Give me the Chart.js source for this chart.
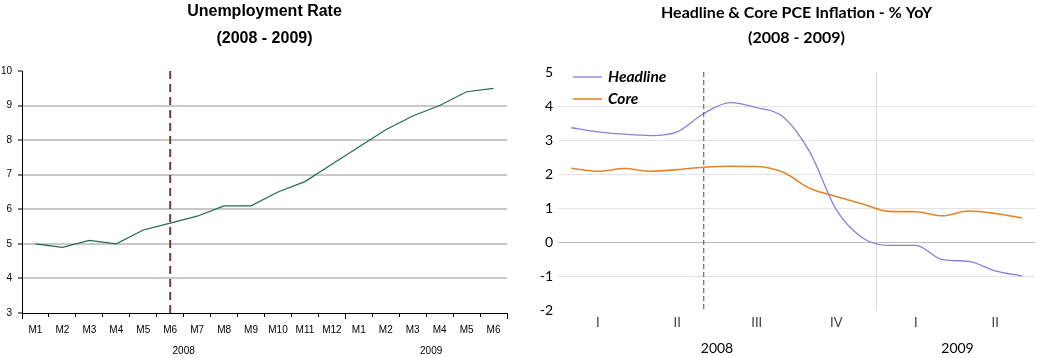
<!DOCTYPE html>
<html><head><meta charset="utf-8">
<script src="https://cdn.jsdelivr.net/npm/chart.js@4/dist/chart.umd.min.js"></script>
<style>
html,body{margin:0;padding:0;background:#fff;}
#wrap{position:relative;width:1039px;height:358px;overflow:hidden;background:#fff;}
#c1{position:absolute;left:0;top:0;}
#c2{position:absolute;left:520px;top:0;}
</style></head><body>
<div id="wrap"><canvas id="c1" width="520" height="358"></canvas><canvas id="c2" width="519" height="358"></canvas></div>
<script>
// ---- data ----
const monthLabels = ['M1','M2','M3','M4','M5','M6','M7','M8','M9','M10','M11','M12','M1','M2','M3','M4','M5','M6'];
const yearLabels = ['2008','2009'];
const unemployment = [5.0,4.9,5.1,5.0,5.4,5.6,5.8,6.1,6.1,6.5,6.8,7.3,7.8,8.3,8.7,9.0,9.4,9.5];
const pceMonths = ['Jan 2008','Feb 2008','Mar 2008','Apr 2008','May 2008','Jun 2008','Jul 2008','Aug 2008','Sep 2008','Oct 2008','Nov 2008','Dec 2008','Jan 2009','Feb 2009','Mar 2009','Apr 2009','May 2009','Jun 2009'];
const quarterLabels = ['I','II','III','IV','I','II'];
const headline = [3.36,3.24,3.17,3.13,3.24,3.78,4.10,3.95,3.68,2.65,0.95,0.12,-0.10,-0.10,-0.52,-0.57,-0.85,-1.00];
const core = [2.17,2.08,2.16,2.08,2.13,2.20,2.23,2.22,2.05,1.58,1.34,1.12,0.90,0.89,0.77,0.91,0.84,0.71];
const markerIndex = 5;      // June 2008
const yearBreakIndex = 12;  // first month of 2009

const overlay = {
  id: 'overlay',
  afterDatasetsDraw(chart, args, o) {
    const {ctx, chartArea} = chart;
    const x = chart.scales.x;
    const px = x.getPixelForValue(o.marker);
    ctx.save();
    ctx.strokeStyle = o.dashColor;
    ctx.lineWidth = o.dashWidth;
    ctx.setLineDash(o.dash);
    ctx.beginPath();
    ctx.moveTo(px, chartArea.top);
    ctx.lineTo(px, chartArea.bottom);
    ctx.stroke();
    ctx.restore();
  },
  afterDraw(chart, args, o) {
    const {ctx, chartArea} = chart;
    const x = chart.scales.x;
    const n = chart.data.labels.length;
    const half = (x.getPixelForValue(1) - x.getPixelForValue(0)) / 2;
    const start = x.getPixelForValue(0) - half;
    const brk = x.getPixelForValue(o.yearBreak) - half;
    const end = x.getPixelForValue(n - 1) + half;
    ctx.save();
    if (o.yearTicks) {
      ctx.strokeStyle = '#000';
      ctx.lineWidth = 1;
      ctx.beginPath();
      [start, brk, end].forEach(p => {
        const xx = Math.round(p) + 0.5;
        ctx.moveTo(xx, chartArea.bottom);
        ctx.lineTo(xx, chartArea.bottom + o.yearTicks);
      });
      ctx.stroke();
    }
    ctx.fillStyle = o.yearColor;
    ctx.font = o.yearFont;
    ctx.textAlign = 'center';
    ctx.textBaseline = 'middle';
    ctx.fillText(o.years[0], (start + brk) / 2, o.yearY);
    ctx.fillText(o.years[1], (brk + end) / 2 + o.year2Shift, o.yearY);
    // in-plot legend
    if (o.legend) {
      const L = o.legend;
      chart.data.datasets.forEach((ds, i) => {
        const y = chartArea.top + L.top + i * L.step;
        const x0 = chartArea.left + L.left;
        ctx.strokeStyle = ds.borderColor;
        ctx.lineWidth = ds.borderWidth;
        ctx.beginPath();
        ctx.moveTo(x0, y);
        ctx.lineTo(x0 + L.width, y);
        ctx.stroke();
        ctx.fillStyle = '#000';
        ctx.font = L.font;
        ctx.textAlign = 'left';
        ctx.textBaseline = 'middle';
        ctx.fillText(ds.label, x0 + L.width + L.gap, y);
      });
    }
    ctx.restore();
  }
};

const arial = '"Liberation Sans", Arial, sans-serif';
const lato = 'Lato, "Open Sans", sans-serif';

new Chart(document.getElementById('c1'), {
  type: 'line',
  data: {
    labels: monthLabels,
    datasets: [{
      label: 'Unemployment Rate',
      data: unemployment,
      borderColor: '#1f6b4e',
      borderWidth: 1.2,
      pointRadius: 0,
      tension: 0,
      fill: false
    }]
  },
  options: {
    responsive: false,
    animation: false,
    layout: {padding: {left: 0, right: 13, top: 0, bottom: 0}},
    plugins: {
      legend: {display: false},
      tooltip: {enabled: false},
      title: {
        display: true,
        fullSize: false,
        text: ['Unemployment Rate', '(2008 - 2009)'],
        color: '#000',
        font: {family: arial, size: 16, weight: 'bold', lineHeight: '27px'},
        padding: {top: -2, bottom: 19}
      },
      overlay: {
        marker: markerIndex, yearBreak: yearBreakIndex,
        dashColor: '#6e3d3d', dashWidth: 2, dash: [8, 5],
        yearTicks: 6, years: yearLabels, yearY: 351, year2Shift: 5,
        yearColor: '#000', yearFont: '10px ' + arial
      }
    },
    scales: {
      x: {
        offset: true,
        grid: {offset: true, drawOnChartArea: false, drawTicks: true, tickLength: 4, tickColor: '#000', tickWidth: 1},
        border: {color: '#000', width: 1},
        ticks: {autoSkip: false, maxRotation: 0, minRotation: 0, padding: 7, color: '#000', font: {family: arial, size: 10}},
        afterFit(s) { s.height = 45; }
      },
      y: {
        min: 3, max: 10,
        ticks: {stepSize: 1, padding: 6, color: '#000', font: {family: arial, size: 10}},
        grid: {
          color: c => (c.tick && (c.tick.value === 3 || c.tick.value === 10)) ? 'rgba(0,0,0,0)' : '#c8c8c8',
          lineWidth: 2, tickColor: '#000', tickLength: 4, tickWidth: 1
        },
        border: {color: '#000', width: 1},
        afterFit(s) { s.width = 22; }
      }
    }
  },
  plugins: [overlay]
});

new Chart(document.getElementById('c2'), {
  type: 'line',
  data: {
    labels: pceMonths,
    datasets: [{
      label: 'Headline',
      data: headline,
      borderColor: '#8b80d8',
      borderWidth: 1.3,
      pointRadius: 0,
      cubicInterpolationMode: 'monotone',
      fill: false
    }, {
      label: 'Core',
      data: core,
      borderColor: '#e2852e',
      borderWidth: 1.6,
      pointRadius: 0,
      cubicInterpolationMode: 'monotone',
      fill: false
    }]
  },
  options: {
    responsive: false,
    animation: false,
    layout: {padding: {left: 0, right: 4, top: 0, bottom: 0}},
    plugins: {
      tooltip: {enabled: false},
      legend: {display: false},
      title: {
        display: true,
        fullSize: false,
        text: ['Headline & Core PCE Inflation - % YoY', '(2008 - 2009)'],
        color: '#000',
        font: {family: lato, size: 16, weight: 'bold', lineHeight: '25px'},
        padding: {top: 0, bottom: 22}
      },
      overlay: {
        marker: markerIndex, yearBreak: yearBreakIndex,
        dashColor: '#6e3d3d', dashWidth: 1, dash: [5, 3],
        yearTicks: 0, years: yearLabels, yearY: 348, year2Shift: 2,
        yearColor: '#000', yearFont: '14px ' + lato,
        legend: {left: 15, top: 5, step: 22, width: 29, gap: 6, font: 'italic bold 15.5px ' + lato}
      }
    },
    scales: {
      x: {
        offset: true,
        grid: {
          offset: true, drawOnChartArea: true, drawTicks: false, lineWidth: 1,
          color: c => c.index === yearBreakIndex ? '#dcdcdc' : 'rgba(0,0,0,0)'
        },
        border: {display: false},
        ticks: {
          autoSkip: false, maxRotation: 0, minRotation: 0, padding: 5, color: '#404040',
          font: {family: lato, size: 13},
          callback: (v, i) => (i % 3 === 1) ? quarterLabels[(i - 1) / 3] : ''
        },
        afterFit(s) { s.height = 48; }
      },
      y: {
        min: -2, max: 5,
        ticks: {stepSize: 1, padding: 5, color: '#000', font: {family: lato, size: 14}},
        grid: {
          drawTicks: false, lineWidth: 1,
          color: c => {
            const v = c.tick ? c.tick.value : null;
            if (v === 5 || v === -2) return 'rgba(0,0,0,0)';
            return v === 0 ? '#bdbdbd' : '#e3e3e3';
          }
        },
        border: {display: false},
        afterFit(s) { s.width = 38; }
      }
    }
  },
  plugins: [overlay]
});
</script>
</body></html>
